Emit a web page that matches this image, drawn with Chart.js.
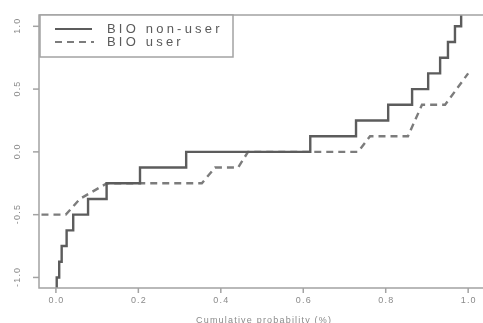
<!DOCTYPE html>
<html>
<head>
<meta charset="utf-8">
<script src="https://cdn.jsdelivr.net/npm/chart.js@4.4.0/dist/chart.umd.min.js"></script>
<style>
  html, body { margin: 0; padding: 0; background: #fff; }
  #wrap { width: 483px; height: 323px; }
</style>
</head>
<body>
<div id="wrap"><canvas id="chartCanvas" width="483" height="323"></canvas></div>
<script>
// step points (x = cumulative probability, y = level reached at that x)
const nonUserX = [0.002, 0.002, 0.008, 0.014, 0.026, 0.042, 0.078, 0.123, 0.204, 0.316, 0.617, 0.728, 0.806, 0.864, 0.903, 0.932, 0.951, 0.968, 0.983];
const nonUserY = [-1.125, -1.0, -0.875, -0.75, -0.625, -0.5, -0.375, -0.25, -0.125, 0, 0.125, 0.25, 0.375, 0.5, 0.625, 0.75, 0.875, 1.0, 1.125];

// user curve corners
const userX = [-0.035, 0.024, 0.058, 0.124, 0.354, 0.386, 0.442, 0.466, 0.733, 0.762, 0.854, 0.888, 0.944, 1.0];
const userY = [-0.5, -0.5, -0.375, -0.25, -0.25, -0.125, -0.125, 0, 0, 0.125, 0.125, 0.375, 0.375, 0.625];

const xTicks = [0, 0.2, 0.4, 0.6, 0.8, 1.0];
const xTickLabels = ['0.0', '0.2', '0.4', '0.6', '0.8', '1.0'];
const yTicks = [-1, -0.5, 0, 0.5, 1];
const yTickLabels = ['-1.0', '-0.5', '0.0', '0.5', '1.0'];

const seriesNames = ['BIO non-user', 'BIO user'];
const xTitle = 'Cumulative probability (%)';

const toPoints = (xs, ys) => xs.map((x, i) => ({ x: x, y: ys[i] }));

const axisColor = '#a3a3a3';
const textColor = '#8a8a8a';
const solidColor = '#5c5c5c';
const dashColor = '#7c7c7c';

const framePlugin = {
    id: 'frame',
    afterDatasetsDraw(chart) {
        const { ctx, chartArea: a, scales: { x, y } } = chart;
        ctx.save();

        // box
        ctx.strokeStyle = axisColor;
        ctx.lineWidth = 1.5;
        ctx.beginPath();
        ctx.moveTo(a.right + 2, a.top);
        ctx.lineTo(a.left, a.top);
        ctx.lineTo(a.left, a.bottom);
        ctx.lineTo(a.right + 2, a.bottom);
        ctx.stroke();

        ctx.fillStyle = textColor;
        ctx.font = '9px "Liberation Sans", Arial, sans-serif';
        ctx.letterSpacing = '1.2px';
        ctx.textAlign = 'center';
        ctx.textBaseline = 'middle';

        // x ticks
        xTicks.forEach((v, i) => {
            const px = x.getPixelForValue(v);
            ctx.beginPath();
            ctx.moveTo(px, a.bottom);
            ctx.lineTo(px, a.bottom + 5);
            ctx.stroke();
            ctx.fillText(xTickLabels[i], px + 0.6, a.bottom + 13);
        });

        // y ticks, labels rotated
        yTicks.forEach((v, i) => {
            const py = y.getPixelForValue(v);
            ctx.beginPath();
            ctx.moveTo(a.left - 6, py);
            ctx.lineTo(a.left, py);
            ctx.stroke();
            ctx.save();
            ctx.translate(a.left - 21, py);
            ctx.rotate(-Math.PI / 2);
            ctx.fillText(yTickLabels[i], 0.6, 0);
            ctx.restore();
        });

        // axis title
        ctx.textBaseline = 'alphabetic';
        ctx.fillText(xTitle, x.getPixelForValue(0.505), 323);

        // legend
        const lx = a.left + 1, ly = a.top, lw = 193, lh = 42;
        ctx.fillStyle = '#fff';
        ctx.fillRect(lx, ly, lw, lh);
        ctx.strokeStyle = axisColor;
        ctx.lineWidth = 1.5;
        ctx.strokeRect(lx, ly, lw, lh);

        const rows = [ly + 14, ly + 27];
        ctx.lineWidth = 2.2;
        ctx.strokeStyle = solidColor;
        ctx.beginPath();
        ctx.moveTo(lx + 15, rows[0]);
        ctx.lineTo(lx + 52, rows[0]);
        ctx.stroke();
        ctx.strokeStyle = dashColor;
        ctx.setLineDash([7, 5]);
        ctx.beginPath();
        ctx.moveTo(lx + 15, rows[1]);
        ctx.lineTo(lx + 54, rows[1]);
        ctx.stroke();
        ctx.setLineDash([]);

        ctx.fillStyle = '#5a5a5a';
        ctx.font = '13px "Liberation Sans", Arial, sans-serif';
        ctx.letterSpacing = '3.2px';
        ctx.textAlign = 'left';
        ctx.textBaseline = 'middle';
        seriesNames.forEach((name, i) => {
            ctx.fillText(name, lx + 67, rows[i]);
        });

        ctx.restore();
    }
};

new Chart(document.getElementById('chartCanvas'), {
    type: 'scatter',
    data: {
        datasets: [
            {
                label: seriesNames[0],
                data: toPoints(nonUserX, nonUserY),
                showLine: true,
                stepped: 'before',
                borderColor: solidColor,
                borderWidth: 2.4,
                pointRadius: 0,
                fill: false
            },
            {
                label: seriesNames[1],
                data: toPoints(userX, userY),
                showLine: true,
                borderColor: dashColor,
                borderWidth: 2.4,
                borderDash: [7, 5],
                pointRadius: 0,
                fill: false
            }
        ]
    },
    options: {
        responsive: false,
        animation: false,
        devicePixelRatio: 1,
        layout: { padding: { left: 39, top: 15, right: 0, bottom: 35 } },
        plugins: {
            legend: { display: false },
            tooltip: { enabled: false }
        },
        scales: {
            x: { type: 'linear', min: -0.041, max: 1.036, display: false },
            y: { type: 'linear', min: -1.084, max: 1.09, display: false }
        }
    },
    plugins: [framePlugin]
});
</script>
</body>
</html>
